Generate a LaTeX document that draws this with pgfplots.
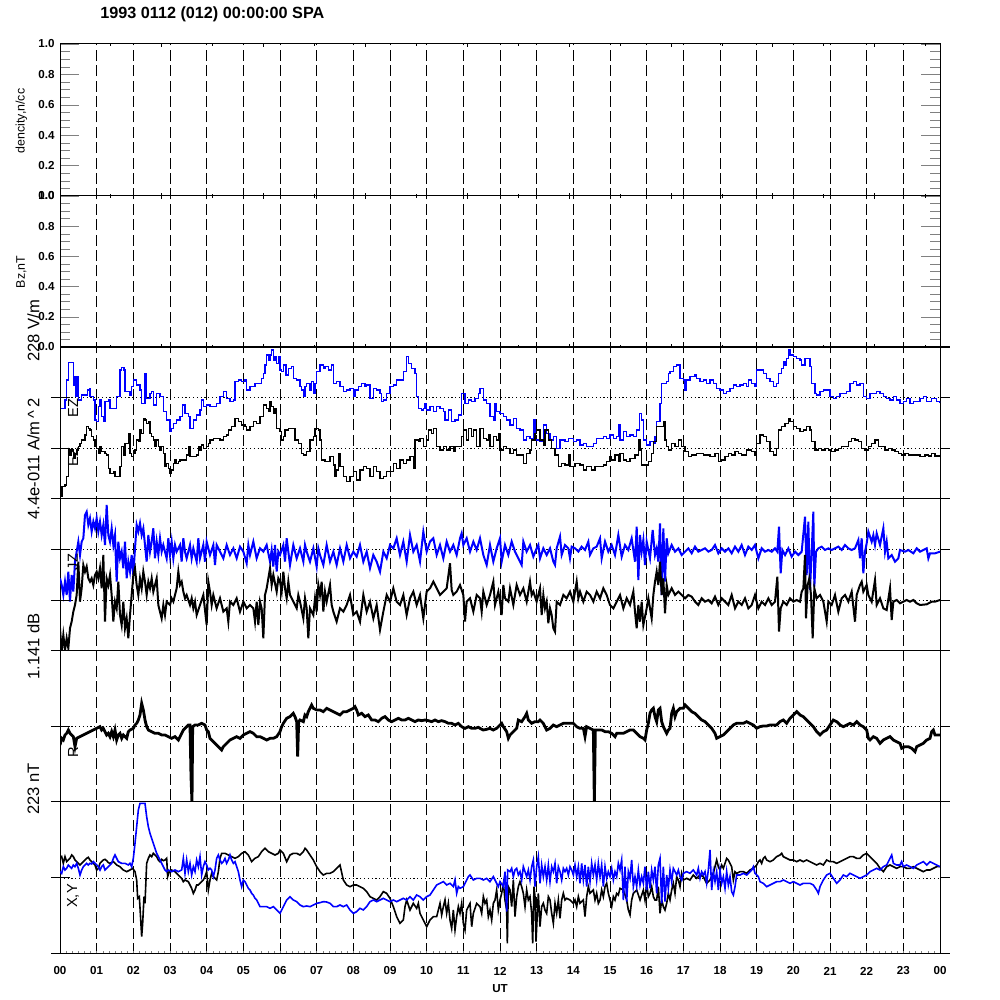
\documentclass[border=0pt]{standalone}
\usepackage{fontspec}
\setmainfont{Liberation Sans}
\usepackage{pgfplots}
\pgfplotsset{compat=1.18}
\pgfplotsset{panel/.style={scale only axis, width=440pt, xmin=0, xmax=2640, anchor=south west,
  axis line style={line width=0.5pt}, xtick=\empty, ytick=\empty, clip=true}}
\begin{document}
\begin{tikzpicture}[x=1pt,y=1pt]
\path[use as bounding box] (0,0) rectangle (500,500);
% hour grid (dashed)
\begin{scope}[line width=0.5pt, dash pattern=on 5.5pt off 2.2pt]
\foreach \h in {1,...,23}{\draw ({30+\h*440/24},23) -- ({30+\h*440/24},478);}
\end{scope}
% dotted reference levels
\begin{scope}[line width=0.45pt, dash pattern=on 0.6pt off 1.3pt]
\foreach \yy in {275.83,301.17,199.83,225.17,136.75,61}{\draw (30,\yy) -- (470,\yy);}
\end{scope}

% ---------- panel 1: density ----------
\begin{axis}[panel, at={(30pt,402pt)}, height=76pt, ymin=0, ymax=1,
  ytick={0,0.2,0.4,0.6,0.8,1.0}, minor y tick num=3, tick align=inside,
  major tick length=9.5pt, minor tick length=5pt, yticklabel pos=left,
  /pgf/number format/assume math mode=true,
  yticklabel style={font=\bfseries\fontsize{5.8}{7}\selectfont, anchor=east, inner sep=0pt, xshift=-2.5pt,
    /pgf/number format/fixed, /pgf/number format/fixed zerofill, /pgf/number format/precision=1}]
\addplot[draw=none] coordinates {(0,0)};
\end{axis}
% ---------- panel 2: Bz ----------
\begin{axis}[panel, at={(30pt,326.5pt)}, height=75.5pt, ymin=0, ymax=1,
  ytick={0,0.2,0.4,0.6,0.8,1.0}, minor y tick num=3, tick align=inside,
  major tick length=9.5pt, minor tick length=5pt, yticklabel pos=left,
  /pgf/number format/assume math mode=true,
  yticklabel style={font=\bfseries\fontsize{5.8}{7}\selectfont, anchor=east, inner sep=0pt, xshift=-2.5pt,
    /pgf/number format/fixed, /pgf/number format/fixed zerofill, /pgf/number format/precision=1}]
\addplot[draw=none] coordinates {(0,0)};
\end{axis}

% ---------- panel 3: EZ / JZ ----------
\begin{axis}[panel, at={(30pt,250.5pt)}, height=76pt, ymin=0, ymax=456]
\addplot[const plot, blue, line width=0.7pt] coordinates {
(3,272)(10,272)(15,297)(20,357)(25,409)(38,409)(40,342)(45,367)(48,307)(52,367)(56,297)(65,312)(75,312)(82,327)(88,332)(90,307)(100,297)(105,237)(110,232)(115,277)(120,297)(125,247)(130,232)(135,292)(145,297)(150,272)(165,272)(170,307)(180,387)(185,395)(192,387)(195,322)(210,312)(215,337)(220,357)(230,342)(240,327)(245,287)(255,377)(260,302)(265,302)(270,317)(275,322)(280,282)(290,317)(300,307)(310,262)(320,237)(330,202)(335,212)(340,227)(350,237)(360,247)(368,282)(375,257)(385,247)(390,212)(400,237)(410,252)(420,267)(425,297)(430,277)(440,282)(450,277)(460,277)(470,287)(480,307)(490,322)(500,302)(510,292)(520,297)(525,352)(535,357)(545,352)(555,357)(560,327)(570,337)(585,347)(595,347)(605,362)(610,377)(615,402)(620,432)(625,417)(630,432)(635,447)(640,417)(645,427)(650,407)(655,427)(660,387)(665,382)(670,402)(678,372)(685,392)(695,397)(700,362)(710,357)(720,337)(725,327)(730,307)(735,337)(740,347)(750,327)(755,352)(760,317)(765,347)(770,382)(780,402)(790,392)(795,397)(805,387)(815,402)(820,347)(830,352)(840,337)(850,322)(860,327)(870,332)(880,307)(885,327)(895,337)(905,347)(915,337)(920,342)(930,302)(940,332)(950,327)(960,317)(965,292)(970,297)(980,317)(990,337)(1000,342)(1010,357)(1020,357)(1030,382)(1040,427)(1045,407)(1055,392)(1065,377)(1070,307)(1075,272)(1085,267)(1090,272)(1095,287)(1100,267)(1110,277)(1120,262)(1130,277)(1140,272)(1150,262)(1155,237)(1165,267)(1175,232)(1185,237)(1195,252)(1205,317)(1215,287)(1225,297)(1235,292)(1245,302)(1255,317)(1260,332)(1270,297)(1280,287)(1290,247)(1300,237)(1305,287)(1310,262)(1320,257)(1330,247)(1340,237)(1350,222)(1360,242)(1370,212)(1380,207)(1390,177)(1400,187)(1410,182)(1420,237)(1425,177)(1440,172)(1450,222)(1460,197)(1470,177)(1480,187)(1490,152)(1500,177)(1515,172)(1525,182)(1540,172)(1550,177)(1560,162)(1570,167)(1580,157)(1590,157)(1600,167)(1610,182)(1620,182)(1630,187)(1640,182)(1650,192)(1660,182)(1670,187)(1675,222)(1680,177)(1690,202)(1700,187)(1710,192)(1720,187)(1730,207)(1738,257)(1745,237)(1750,177)(1760,162)(1770,172)(1780,167)(1785,187)(1790,232)(1800,287)(1805,347)(1820,352)(1825,377)(1830,382)(1840,397)(1850,402)(1855,402)(1860,362)(1870,357)(1875,327)(1880,357)(1890,367)(1900,367)(1905,372)(1910,362)(1920,352)(1930,357)(1940,347)(1950,357)(1960,347)(1970,332)(1980,327)(1990,317)(2000,322)(2010,332)(2020,342)(2030,337)(2040,342)(2050,347)(2060,337)(2065,357)(2075,347)(2085,337)(2090,387)(2100,387)(2110,377)(2120,362)(2130,352)(2140,337)(2150,347)(2155,377)(2165,392)(2170,412)(2175,402)(2180,422)(2185,447)(2190,432)(2200,427)(2210,422)(2220,417)(2225,402)(2235,422)(2245,422)(2250,397)(2255,347)(2265,317)(2270,312)(2280,322)(2290,327)(2300,327)(2310,307)(2320,302)(2330,307)(2340,317)(2350,317)(2360,322)(2370,347)(2380,352)(2390,342)(2400,347)(2410,307)(2420,302)(2430,317)(2440,317)(2450,322)(2460,317)(2470,307)(2480,302)(2490,297)(2500,307)(2510,297)(2520,287)(2530,292)(2540,302)(2550,287)(2560,292)(2570,292)(2580,302)(2590,307)(2600,292)(2610,292)(2615,302)(2625,302)(2630,292)(2640,287)};
\addplot[const plot, black, line width=0.7pt] coordinates {
(3,7)(6,37)(15,42)(20,67)(25,82)(26,147)(30,132)(35,147)(40,122)(45,137)(50,147)(55,157)(60,167)(65,177)(75,192)(80,217)(85,212)(90,207)(95,187)(100,177)(105,157)(110,152)(115,137)(120,157)(125,142)(135,137)(140,132)(145,92)(150,77)(160,82)(165,67)(175,67)(180,97)(185,157)(190,132)(195,167)(205,197)(210,137)(215,127)(220,137)(225,147)(230,177)(235,172)(240,207)(245,197)(250,242)(255,237)(260,227)(265,232)(270,197)(275,187)(280,177)(285,157)(290,177)(295,157)(300,147)(305,157)(310,137)(315,97)(320,107)(325,92)(330,77)(335,87)(340,107)(345,117)(350,107)(355,112)(360,117)(370,117)(380,132)(385,157)(390,127)(405,127)(410,132)(415,157)(420,147)(425,162)(430,152)(440,157)(445,167)(450,177)(460,182)(470,182)(480,177)(490,187)(500,192)(505,207)(515,217)(525,242)(535,232)(545,222)(555,217)(560,207)(570,217)(580,232)(590,227)(600,247)(610,282)(620,272)(625,262)(630,292)(635,277)(640,257)(645,272)(650,212)(660,202)(665,177)(670,187)(675,207)(685,212)(700,212)(705,177)(715,167)(725,137)(730,132)(740,142)(750,177)(760,187)(765,212)(775,207)(780,177)(785,117)(795,112)(805,112)(810,127)(820,102)(825,67)(830,87)(835,137)(840,97)(850,67)(860,52)(870,67)(880,82)(890,57)(900,87)(910,97)(920,92)(930,67)(940,97)(950,82)(960,62)(970,67)(980,82)(990,82)(1000,107)(1010,92)(1020,117)(1030,107)(1040,117)(1050,127)(1060,92)(1065,177)(1075,172)(1080,182)(1090,157)(1100,177)(1105,207)(1115,197)(1120,212)(1130,157)(1140,147)(1150,157)(1160,147)(1170,157)(1180,142)(1185,157)(1195,157)(1205,187)(1210,207)(1220,177)(1225,212)(1235,187)(1240,207)(1250,157)(1260,212)(1270,182)(1280,177)(1285,192)(1290,157)(1300,187)(1310,177)(1315,197)(1320,147)(1330,157)(1340,152)(1350,137)(1360,147)(1370,132)(1380,132)(1390,107)(1400,137)(1410,147)(1415,177)(1425,197)(1430,207)(1440,177)(1450,162)(1455,207)(1465,177)(1475,152)(1485,132)(1495,97)(1505,107)(1515,102)(1525,132)(1530,97)(1545,107)(1560,102)(1570,87)(1580,97)(1595,87)(1605,97)(1615,97)(1630,102)(1640,112)(1650,127)(1655,117)(1665,132)(1675,112)(1680,137)(1690,117)(1700,112)(1710,122)(1725,132)(1735,177)(1740,147)(1745,102)(1760,102)(1765,112)(1775,137)(1780,172)(1790,217)(1805,217)(1810,232)(1815,177)(1820,157)(1825,147)(1835,167)(1845,157)(1855,177)(1865,157)(1875,142)(1885,127)(1895,132)(1910,137)(1930,132)(1950,127)(1965,137)(1975,112)(1985,117)(1995,127)(2005,137)(2015,132)(2025,142)(2035,137)(2045,132)(2060,147)(2075,142)(2085,132)(2090,167)(2100,192)(2110,187)(2120,172)(2130,142)(2140,132)(2150,152)(2155,207)(2165,217)(2175,227)(2185,242)(2190,232)(2200,217)(2210,212)(2220,202)(2230,207)(2240,217)(2250,207)(2255,172)(2265,147)(2275,152)(2285,147)(2295,152)(2305,147)(2315,142)(2325,147)(2335,152)(2345,157)(2355,157)(2365,172)(2375,182)(2385,177)(2395,172)(2405,152)(2415,147)(2425,157)(2435,167)(2445,177)(2455,157)(2465,157)(2475,147)(2485,152)(2495,147)(2505,142)(2515,137)(2525,132)(2535,137)(2545,132)(2555,132)(2565,132)(2580,127)(2595,132)(2605,129)(2615,137)(2625,129)(2640,127)};
\end{axis}

% ---------- panel 4: dB ----------
\begin{axis}[panel, at={(30pt,174.5pt)}, height=76pt, ymin=0, ymax=456]
\addplot[blue, line width=1.0pt] coordinates {
(0,218)(5,198)(10,168)(15,208)(20,168)(25,238)(30,148)(35,228)(40,178)(45,268)(50,298)(55,328)(60,288)(65,328)(70,338)(75,408)(80,418)(85,378)(90,398)(95,358)(100,388)(105,368)(110,398)(115,358)(120,388)(125,348)(130,378)(135,318)(140,438)(145,348)(150,328)(155,368)(160,318)(165,348)(170,208)(175,328)(180,278)(185,298)(190,248)(195,328)(200,218)(205,268)(210,238)(215,288)(220,228)(225,308)(230,378)(235,358)(240,383)(245,348)(250,368)(255,318)(260,268)(265,348)(270,298)(275,328)(280,368)(285,278)(290,328)(295,288)(300,338)(305,298)(310,318)(320,278)(325,338)(330,288)(335,328)(340,278)(345,318)(350,298)(360,318)(365,268)(370,338)(375,298)(380,278)(390,318)(395,278)(400,308)(410,268)(415,338)(420,278)(430,318)(435,268)(440,328)(450,288)(460,318)(465,258)(470,318)(480,298)(490,278)(500,318)(510,288)(520,308)(530,278)(540,313)(550,298)(560,263)(565,318)(570,288)(580,328)(590,278)(600,308)(610,298)(620,318)(630,268)(635,303)(640,253)(645,318)(650,238)(655,298)(660,288)(670,318)(675,268)(680,338)(690,258)(700,318)(710,278)(720,308)(730,268)(735,318)(740,298)(750,268)(760,308)(770,253)(775,308)(780,288)(790,258)(800,318)(810,268)(820,298)(830,258)(840,308)(850,268)(860,318)(870,278)(880,298)(890,283)(900,318)(910,268)(920,298)(930,248)(940,288)(950,268)(960,238)(970,298)(980,278)(990,318)(1000,308)(1010,338)(1020,288)(1030,328)(1040,268)(1050,348)(1060,298)(1070,318)(1080,268)(1090,358)(1100,298)(1110,328)(1120,338)(1130,288)(1140,318)(1150,278)(1160,328)(1170,298)(1180,318)(1190,288)(1200,338)(1205,353)(1210,318)(1220,338)(1230,298)(1240,328)(1250,303)(1260,338)(1270,288)(1280,258)(1290,318)(1300,268)(1310,308)(1320,338)(1325,268)(1335,318)(1345,288)(1355,328)(1365,298)(1375,278)(1385,258)(1390,328)(1400,298)(1410,318)(1420,283)(1430,308)(1435,318)(1440,278)(1450,308)(1460,288)(1470,308)(1480,268)(1485,258)(1490,308)(1500,343)(1505,288)(1515,318)(1525,308)(1530,278)(1535,313)(1545,308)(1555,298)(1565,313)(1575,303)(1585,328)(1590,288)(1600,308)(1610,313)(1620,338)(1625,278)(1635,328)(1645,298)(1655,318)(1665,288)(1675,348)(1685,283)(1695,318)(1705,303)(1715,338)(1725,268)(1730,373)(1735,213)(1740,348)(1745,298)(1750,333)(1755,258)(1760,328)(1770,278)(1778,363)(1785,288)(1790,308)(1795,268)(1800,383)(1805,168)(1810,368)(1815,208)(1820,338)(1825,293)(1835,318)(1845,298)(1855,308)(1865,288)(1875,298)(1885,308)(1895,293)(1905,313)(1915,298)(1925,303)(1935,308)(1945,298)(1955,303)(1965,318)(1975,293)(1985,308)(1995,298)(2005,308)(2015,293)(2025,313)(2035,298)(2045,318)(2055,288)(2065,313)(2075,303)(2085,318)(2095,278)(2105,308)(2115,298)(2125,303)(2135,298)(2145,308)(2152,298)(2157,373)(2162,233)(2167,303)(2175,288)(2185,308)(2195,283)(2205,298)(2215,288)(2225,298)(2235,403)(2240,228)(2245,388)(2250,183)(2255,298)(2260,418)(2263,193)(2268,298)(2275,308)(2285,313)(2295,303)(2305,308)(2315,303)(2325,308)(2335,313)(2345,303)(2355,318)(2365,308)(2375,303)(2385,308)(2395,333)(2400,278)(2405,338)(2410,233)(2415,298)(2420,323)(2425,358)(2435,328)(2440,348)(2445,318)(2450,353)(2460,318)(2470,368)(2475,298)(2480,328)(2485,278)(2495,288)(2505,268)(2515,278)(2520,303)(2535,298)(2545,303)(2560,293)(2570,308)(2580,298)(2590,303)(2600,308)(2605,278)(2610,293)(2625,293)(2640,298)};
\addplot[black, line width=1.0pt] coordinates {
(0,68)(5,-2)(10,48)(15,3)(20,38)(25,8)(30,68)(35,88)(40,118)(45,138)(50,168)(55,268)(60,148)(65,188)(70,258)(75,238)(80,253)(85,218)(90,208)(95,218)(100,198)(105,228)(110,238)(115,218)(120,248)(125,188)(130,288)(135,88)(140,218)(145,198)(150,228)(155,168)(160,88)(165,148)(170,128)(175,208)(180,108)(185,78)(190,148)(195,68)(200,98)(205,38)(210,108)(215,168)(220,228)(225,248)(230,198)(235,168)(240,218)(245,188)(250,238)(255,208)(260,168)(265,208)(270,188)(275,218)(280,178)(285,198)(290,218)(295,138)(300,118)(305,98)(310,138)(315,108)(320,148)(330,138)(335,158)(340,148)(350,188)(355,238)(360,198)(365,208)(370,178)(375,158)(380,168)(390,138)(395,158)(400,128)(405,148)(410,108)(420,138)(430,168)(440,78)(445,208)(450,178)(455,138)(460,168)(465,148)(470,128)(480,158)(490,118)(500,128)(505,88)(510,148)(520,138)(530,158)(540,118)(550,148)(560,128)(570,138)(580,128)(585,88)(590,148)(595,78)(600,148)(605,128)(610,38)(615,168)(620,188)(625,218)(630,248)(635,198)(640,228)(650,178)(655,218)(660,208)(665,178)(670,238)(675,188)(680,158)(685,208)(690,168)(700,148)(710,128)(715,168)(720,148)(730,98)(735,158)(740,128)(745,38)(750,128)(760,108)(765,158)(770,118)(775,198)(780,168)(785,208)(790,118)(795,178)(800,148)(810,198)(815,138)(820,118)(830,88)(840,128)(850,118)(860,138)(870,168)(880,108)(890,118)(900,88)(910,168)(920,118)(930,148)(940,98)(950,138)(960,63)(970,118)(980,168)(990,148)(1000,188)(1010,148)(1020,138)(1030,168)(1040,108)(1050,158)(1060,178)(1070,138)(1080,168)(1090,98)(1100,178)(1110,188)(1120,208)(1130,188)(1140,168)(1150,178)(1160,188)(1170,263)(1175,183)(1180,168)(1190,178)(1200,198)(1210,168)(1215,88)(1220,148)(1230,158)(1240,118)(1250,168)(1260,158)(1265,118)(1270,178)(1280,138)(1290,168)(1300,208)(1305,138)(1315,178)(1320,148)(1325,108)(1330,198)(1335,158)(1345,148)(1350,188)(1360,138)(1370,198)(1380,168)(1390,188)(1400,148)(1410,208)(1415,168)(1420,178)(1430,148)(1440,188)(1445,108)(1450,168)(1455,128)(1460,148)(1465,83)(1470,128)(1475,108)(1480,68)(1485,58)(1490,148)(1500,138)(1510,168)(1520,158)(1530,178)(1540,148)(1550,208)(1555,158)(1560,178)(1570,148)(1580,178)(1590,168)(1600,148)(1610,178)(1620,158)(1630,188)(1640,168)(1650,138)(1660,128)(1670,148)(1680,168)(1690,128)(1700,158)(1710,138)(1720,178)(1725,118)(1730,68)(1735,138)(1740,88)(1745,148)(1750,78)(1760,128)(1765,158)(1775,98)(1780,168)(1785,208)(1790,238)(1795,198)(1800,268)(1805,168)(1810,218)(1815,113)(1820,198)(1825,168)(1835,188)(1845,168)(1855,178)(1865,168)(1875,158)(1885,168)(1895,163)(1905,148)(1915,138)(1925,158)(1935,148)(1945,153)(1955,143)(1965,163)(1975,138)(1985,158)(1995,148)(2005,138)(2015,168)(2025,128)(2035,148)(2045,138)(2055,158)(2065,128)(2075,138)(2085,168)(2095,128)(2105,148)(2115,138)(2125,158)(2135,138)(2145,148)(2152,223)(2157,58)(2162,128)(2170,148)(2180,138)(2190,158)(2200,148)(2210,153)(2220,148)(2225,178)(2230,188)(2235,288)(2238,98)(2243,198)(2248,218)(2253,168)(2258,38)(2263,188)(2270,158)(2280,168)(2290,148)(2300,88)(2305,148)(2315,138)(2325,168)(2335,118)(2345,158)(2355,168)(2365,148)(2375,178)(2385,88)(2390,168)(2400,198)(2405,208)(2410,178)(2420,198)(2425,168)(2435,148)(2445,213)(2450,138)(2460,158)(2470,128)(2480,123)(2490,188)(2495,93)(2500,148)(2510,153)(2520,143)(2530,148)(2540,153)(2550,148)(2560,153)(2570,143)(2580,138)(2600,140)(2615,148)(2625,148)(2640,153)};
\end{axis}

% ---------- panel 5: R ----------
\begin{axis}[panel, at={(30pt,99pt)}, height=75.5pt, ymin=0, ymax=453]
\addplot[black, line width=1.4pt] coordinates {
(0,171)(5,191)(10,186)(15,201)(20,206)(25,216)(30,206)(35,201)(40,196)(45,166)(50,191)(60,196)(70,201)(80,206)(90,211)(100,216)(110,221)(120,226)(125,216)(130,221)(135,211)(140,201)(145,206)(150,196)(155,211)(160,196)(165,216)(170,186)(175,201)(180,206)(185,191)(190,201)(200,191)(205,211)(210,216)(220,221)(225,231)(230,236)(235,246)(240,261)(245,296)(250,276)(255,246)(260,226)(265,216)(275,211)(285,206)(295,206)(305,201)(315,201)(325,196)(335,191)(345,196)(355,186)(360,196)(365,206)(370,216)(375,221)(385,231)(390,231)(393,76)(396,-4)(398,226)(405,231)(415,231)(425,236)(435,231)(440,216)(445,211)(450,191)(460,181)(470,171)(480,161)(485,156)(490,166)(495,171)(500,176)(510,186)(520,191)(530,196)(540,191)(550,201)(560,206)(570,211)(580,206)(590,196)(600,196)(610,191)(620,186)(630,191)(640,191)(650,196)(660,211)(665,226)(670,236)(680,251)(690,256)(700,266)(705,256)(710,241)(713,136)(716,241)(720,246)(730,241)(735,261)(740,256)(745,271)(750,281)(755,291)(760,281)(770,276)(780,276)(790,271)(800,281)(810,276)(820,271)(830,266)(840,261)(850,271)(860,271)(870,276)(880,281)(885,286)(890,276)(895,261)(905,266)(915,256)(925,261)(935,246)(945,246)(955,241)(965,251)(975,256)(985,246)(995,241)(1005,246)(1015,251)(1025,246)(1035,246)(1045,251)(1055,246)(1065,241)(1075,246)(1085,244)(1095,246)(1105,244)(1115,241)(1125,246)(1135,241)(1145,244)(1155,241)(1165,236)(1175,236)(1185,231)(1195,236)(1205,226)(1215,221)(1225,226)(1235,221)(1245,221)(1255,224)(1260,221)(1270,216)(1280,218)(1290,221)(1300,216)(1310,221)(1320,231)(1325,236)(1330,226)(1340,211)(1345,191)(1350,201)(1360,211)(1370,221)(1375,246)(1385,241)(1395,256)(1400,266)(1405,246)(1415,236)(1425,241)(1435,241)(1440,246)(1450,236)(1460,216)(1470,221)(1480,231)(1490,226)(1500,231)(1510,236)(1520,236)(1530,236)(1540,236)(1550,226)(1560,221)(1570,221)(1575,196)(1580,226)(1590,221)(1600,216)(1603,-4)(1606,216)(1615,216)(1625,216)(1635,211)(1645,211)(1655,206)(1665,196)(1670,206)(1680,206)(1690,206)(1700,211)(1710,216)(1720,216)(1730,206)(1740,196)(1750,191)(1755,186)(1760,216)(1765,236)(1770,266)(1775,276)(1780,281)(1785,256)(1790,241)(1795,276)(1800,281)(1805,241)(1810,226)(1815,216)(1820,206)(1825,216)(1830,221)(1835,266)(1840,281)(1845,256)(1850,271)(1860,281)(1870,281)(1875,291)(1885,281)(1895,271)(1905,266)(1915,256)(1925,246)(1935,241)(1945,231)(1955,221)(1965,206)(1970,191)(1980,196)(1990,201)(2000,211)(2010,221)(2020,231)(2030,236)(2040,236)(2050,236)(2060,241)(2070,236)(2080,231)(2090,221)(2100,226)(2110,228)(2120,228)(2130,231)(2140,231)(2150,231)(2160,241)(2170,246)(2180,236)(2190,251)(2200,261)(2210,271)(2220,261)(2230,256)(2240,246)(2250,236)(2260,226)(2270,211)(2280,201)(2290,211)(2300,216)(2310,231)(2320,246)(2330,241)(2340,231)(2350,226)(2360,231)(2370,236)(2380,231)(2390,241)(2400,231)(2410,226)(2420,216)(2425,191)(2430,186)(2440,196)(2450,191)(2460,176)(2470,186)(2480,191)(2490,196)(2500,186)(2510,181)(2520,176)(2525,161)(2535,166)(2545,166)(2555,161)(2565,151)(2570,166)(2580,171)(2590,176)(2600,186)(2610,191)(2615,211)(2620,216)(2625,201)(2630,201)(2640,201)};
\end{axis}

% ---------- panel 6: X,Y ----------
\begin{axis}[panel, at={(30pt,23pt)}, height=76pt, ymin=0, ymax=456,
  xtick={0,110,...,2640}, xtick pos=left, xtick align=inside,
  minor x tick num=5, major tick length=1.6pt, minor tick length=1.6pt,
  xticklabels={00,01,02,03,04,05,06,07,08,09,10,11,12,13,14,15,16,17,18,19,20,21,22,23,00},
  xticklabel style={font=\bfseries\fontsize{5.8}{7}\selectfont, anchor=center, yshift=-8.5pt}]
\addplot[black, line width=0.8pt] coordinates {
(0,287)(5,292)(10,272)(15,292)(20,277)(25,282)(30,287)(35,297)(40,292)(45,282)(50,277)(55,272)(60,267)(65,272)(70,277)(75,282)(80,287)(85,290)(90,282)(95,277)(100,272)(105,267)(110,252)(115,257)(120,272)(125,277)(130,282)(135,284)(140,280)(145,274)(150,272)(160,277)(170,267)(180,262)(190,252)(200,247)(210,252)(218,257)(225,247)(230,222)(233,167)(238,172)(241,122)(245,52)(248,92)(252,172)(255,152)(260,272)(265,287)(270,297)(275,292)(280,302)(285,297)(290,292)(295,282)(300,277)(305,284)(310,280)(315,282)(320,287)(323,232)(328,247)(335,252)(345,247)(355,237)(365,227)(370,217)(375,222)(385,217)(395,197)(400,182)(405,192)(410,207)(415,207)(420,212)(425,217)(430,222)(435,232)(440,247)(445,192)(450,222)(455,242)(460,232)(465,227)(470,222)(475,247)(480,287)(485,302)(495,302)(505,297)(515,292)(525,287)(535,292)(545,302)(555,307)(565,297)(575,277)(585,287)(595,292)(605,307)(615,317)(625,307)(635,302)(645,297)(655,302)(660,312)(670,302)(680,277)(690,297)(700,302)(710,302)(720,297)(730,307)(735,317)(740,312)(750,297)(760,282)(770,262)(780,247)(790,237)(800,242)(810,242)(820,247)(830,257)(840,267)(850,222)(860,207)(870,202)(880,207)(890,207)(900,202)(910,197)(920,187)(930,172)(940,167)(950,162)(960,172)(970,187)(980,182)(990,167)(1000,142)(1010,112)(1020,92)(1030,102)(1035,142)(1040,162)(1050,132)(1060,152)(1070,137)(1075,152)(1080,122)(1090,102)(1100,82)(1110,102)(1120,112)(1130,112)(1140,152)(1145,117)(1150,142)(1155,162)(1160,122)(1165,152)(1170,102)(1175,77)(1180,132)(1185,72)(1190,112)(1195,142)(1200,122)(1205,152)(1210,92)(1215,72)(1220,132)(1230,152)(1235,82)(1240,122)(1250,152)(1260,142)(1265,122)(1270,172)(1275,152)(1280,162)(1285,112)(1290,132)(1295,102)(1300,152)(1305,162)(1310,192)(1315,132)(1320,162)(1325,182)(1330,212)(1335,162)(1340,132)(1342,32)(1345,202)(1350,192)(1355,142)(1360,222)(1365,112)(1370,172)(1375,202)(1380,217)(1385,202)(1390,182)(1395,142)(1400,192)(1405,162)(1410,172)(1415,122)(1418,32)(1422,202)(1425,172)(1428,37)(1432,122)(1435,182)(1440,82)(1445,142)(1450,152)(1455,132)(1460,122)(1465,172)(1470,162)(1475,122)(1480,92)(1485,152)(1490,122)(1495,162)(1500,107)(1505,162)(1510,182)(1515,162)(1520,167)(1530,162)(1540,152)(1545,162)(1550,142)(1555,172)(1560,152)(1570,162)(1575,112)(1580,172)(1585,202)(1590,182)(1600,192)(1605,162)(1610,182)(1615,152)(1620,162)(1625,192)(1630,172)(1635,202)(1640,212)(1645,182)(1650,162)(1655,142)(1660,172)(1665,162)(1670,182)(1675,177)(1680,197)(1690,192)(1700,162)(1705,132)(1710,117)(1715,162)(1720,182)(1730,192)(1740,162)(1750,192)(1755,162)(1760,212)(1765,172)(1770,182)(1775,202)(1780,172)(1785,162)(1790,162)(1795,202)(1800,122)(1805,162)(1810,142)(1815,132)(1820,152)(1825,182)(1830,162)(1835,192)(1840,212)(1845,182)(1850,232)(1855,222)(1860,202)(1865,242)(1870,222)(1880,227)(1890,222)(1900,237)(1910,227)(1920,237)(1930,232)(1940,212)(1950,222)(1960,242)(1965,262)(1970,282)(1975,262)(1980,252)(1985,267)(1990,257)(2000,287)(2005,282)(2010,272)(2015,262)(2020,222)(2025,247)(2030,242)(2040,247)(2050,247)(2060,242)(2070,252)(2080,257)(2090,267)(2095,277)(2100,282)(2105,272)(2110,287)(2115,292)(2120,282)(2130,277)(2140,282)(2150,292)(2160,297)(2165,302)(2170,292)(2180,287)(2190,282)(2200,282)(2210,277)(2220,282)(2230,277)(2240,282)(2250,277)(2260,272)(2270,267)(2280,272)(2290,267)(2300,282)(2310,277)(2320,277)(2330,272)(2340,277)(2350,282)(2360,287)(2370,292)(2380,292)(2390,287)(2400,287)(2410,297)(2420,302)(2430,292)(2440,282)(2450,272)(2460,257)(2470,247)(2480,262)(2490,267)(2500,262)(2510,257)(2520,262)(2530,262)(2540,257)(2550,257)(2560,262)(2570,257)(2580,252)(2590,247)(2600,252)(2610,252)(2620,257)(2630,262)(2640,262)};
\addplot[blue, line width=0.8pt] coordinates {
(0,247)(5,242)(10,262)(15,252)(20,257)(25,267)(30,262)(35,257)(40,267)(45,262)(50,272)(55,257)(60,237)(65,252)(70,262)(75,267)(80,272)(85,267)(90,272)(95,270)(100,277)(105,272)(110,267)(115,262)(120,252)(125,262)(130,267)(135,252)(140,257)(145,262)(150,267)(155,272)(160,287)(165,297)(170,287)(175,277)(185,272)(195,272)(205,267)(210,272)(215,262)(220,287)(225,332)(230,382)(235,432)(240,452)(255,452)(260,412)(265,382)(270,362)(275,347)(280,332)(285,317)(290,302)(295,292)(300,282)(305,272)(310,262)(315,252)(320,247)(325,252)(335,247)(345,252)(355,247)(365,252)(370,287)(375,242)(380,282)(385,247)(390,272)(395,237)(400,262)(405,247)(410,282)(415,262)(420,292)(425,237)(430,262)(435,277)(440,267)(445,252)(450,257)(455,252)(460,232)(465,252)(470,287)(475,297)(480,282)(485,272)(490,277)(495,287)(500,272)(505,282)(510,297)(515,282)(520,272)(525,277)(530,262)(535,247)(540,222)(545,202)(550,222)(555,217)(560,207)(565,197)(570,192)(575,182)(580,177)(585,167)(590,162)(600,142)(610,142)(620,142)(630,137)(640,142)(650,132)(660,122)(670,142)(680,162)(690,172)(700,162)(710,157)(720,147)(730,142)(740,144)(750,142)(760,147)(770,152)(780,154)(790,157)(800,156)(810,152)(820,142)(830,142)(840,147)(850,142)(860,147)(870,132)(880,122)(890,127)(900,137)(910,132)(920,142)(930,157)(940,162)(950,157)(960,162)(970,167)(980,162)(990,157)(1000,162)(1010,157)(1020,162)(1030,167)(1040,162)(1050,172)(1060,162)(1070,177)(1080,172)(1090,162)(1100,172)(1110,177)(1120,192)(1130,207)(1140,212)(1150,217)(1160,207)(1170,212)(1180,202)(1185,222)(1190,182)(1195,202)(1200,197)(1210,202)(1220,222)(1225,232)(1230,237)(1240,222)(1250,227)(1260,227)(1270,222)(1280,227)(1290,217)(1300,232)(1310,212)(1315,202)(1320,217)(1330,202)(1335,247)(1340,127)(1343,252)(1350,247)(1355,257)(1360,232)(1365,252)(1370,257)(1375,237)(1380,247)(1385,222)(1390,262)(1400,232)(1405,252)(1410,222)(1415,262)(1420,282)(1425,202)(1430,262)(1435,292)(1440,212)(1445,267)(1450,232)(1455,262)(1460,222)(1465,267)(1470,217)(1475,262)(1480,247)(1485,272)(1490,212)(1495,262)(1500,247)(1505,222)(1510,257)(1515,247)(1520,257)(1525,237)(1530,262)(1535,252)(1540,237)(1545,267)(1550,232)(1555,262)(1560,212)(1565,272)(1570,222)(1575,267)(1580,202)(1585,262)(1590,217)(1595,272)(1600,237)(1605,267)(1610,222)(1615,272)(1620,232)(1625,267)(1630,202)(1635,262)(1640,227)(1645,247)(1650,232)(1655,257)(1660,222)(1665,247)(1670,232)(1675,272)(1680,252)(1685,282)(1690,162)(1695,262)(1700,157)(1705,247)(1710,227)(1715,282)(1720,202)(1725,232)(1730,202)(1735,252)(1740,207)(1745,232)(1750,212)(1755,262)(1760,192)(1765,247)(1770,197)(1775,252)(1780,222)(1785,262)(1790,182)(1795,267)(1800,287)(1805,152)(1810,262)(1815,157)(1820,237)(1825,197)(1830,252)(1835,217)(1840,257)(1850,237)(1855,252)(1860,232)(1865,222)(1870,242)(1880,247)(1890,242)(1900,252)(1910,237)(1915,257)(1920,227)(1925,247)(1930,237)(1935,247)(1940,212)(1945,252)(1950,312)(1955,192)(1960,247)(1965,217)(1970,247)(1975,192)(1980,252)(1985,212)(1990,232)(1995,197)(2000,247)(2005,207)(2010,232)(2015,187)(2020,177)(2025,202)(2030,237)(2040,237)(2050,242)(2060,237)(2070,247)(2075,252)(2080,262)(2085,242)(2090,237)(2095,232)(2100,217)(2110,212)(2120,202)(2130,207)(2140,212)(2150,217)(2160,217)(2170,222)(2180,217)(2190,212)(2200,217)(2210,212)(2220,207)(2230,212)(2240,212)(2250,212)(2260,207)(2270,192)(2275,182)(2280,202)(2290,222)(2300,237)(2310,242)(2320,227)(2330,212)(2340,222)(2350,237)(2360,232)(2370,242)(2380,237)(2390,232)(2400,227)(2410,232)(2420,237)(2430,247)(2440,252)(2450,257)(2460,252)(2470,262)(2480,267)(2490,287)(2495,297)(2500,272)(2510,267)(2520,267)(2525,277)(2530,262)(2540,267)(2550,262)(2560,257)(2570,267)(2580,272)(2590,277)(2600,267)(2610,277)(2620,272)(2630,267)(2640,262)};
\end{axis}

% ---------- tick marks drawn around the panels ----------
\begin{scope}[line width=0.5pt]
\foreach \yy in {250.5,275.83,301.17,199.83,225.17,174.5,136.75,99,61,23}{\draw (25.5,\yy) -- (35,\yy);}
\foreach \yy in {326.5,250.5,275.83,301.17,199.83,225.17,174.5,136.75,99,61,23}{\draw (470,\yy) -- (475,\yy);}
\foreach \k in {1,...,17}{
  \pgfmathsetmacro{\xx}{30+\k*25.463}
  \pgfmathsetmacro{\ll}{ifthenelse(mod(\k,2)==1,1,1.6)}
  \draw (\xx,478) -- ++(0,-\ll);
  \draw (\xx,402) -- ++(0,\ll);
  \draw (\xx,402) -- ++(0,-\ll);
  \draw (\xx,326.5) -- ++(0,\ll);
}
\draw[line width=1.2pt] (30,326.5) -- (475,326.5);
\end{scope}

% ---------- texts ----------
\node[anchor=west, inner sep=0pt, font=\bfseries\fontsize{8.1}{10}\selectfont] at (50,493) {1993 0112 (012) 00:00:00 SPA};
\node[rotate=90, inner sep=0pt, font=\fontsize{6.2}{7}\selectfont] at (10.75,439.5) {dencity,n/cc};
\node[rotate=90, inner sep=0pt, font=\fontsize{6.2}{7}\selectfont] at (10.75,364) {Bz,nT};
\node[rotate=90, anchor=west, inner sep=0pt, font=\fontsize{8.3}{10}\selectfont] at (16.75,319) {228 V/m};
\node[rotate=90, anchor=west, inner sep=0pt, font=\fontsize{8.3}{10}\selectfont] at (16.75,240) {4.4e-011 A/m\,\textasciicircum\,2};
\node[rotate=90, anchor=west, inner sep=0pt, font=\fontsize{8.3}{10}\selectfont] at (16.75,160) {1.141 dB};
\node[rotate=90, anchor=west, inner sep=0pt, font=\fontsize{8.3}{10}\selectfont] at (16.75,92.5) {223 nT};
\node[rotate=90, inner sep=0pt, font=\fontsize{7.3}{9}\selectfont] at (36.5,296) {EZ};
\node[rotate=90, inner sep=0pt, font=\fontsize{7.3}{9}\selectfont] at (36.5,271.5) {EZ};
\node[rotate=90, inner sep=0pt, font=\fontsize{7.3}{9}\selectfont] at (36.5,219) {JZ};
\node[rotate=90, inner sep=0pt, font=\fontsize{7.3}{9}\selectfont] at (36.5,124) {R};
\node[rotate=90, inner sep=0pt, font=\fontsize{7.3}{9}\selectfont] at (36.5,52) {X,Y};
\node[inner sep=0pt, font=\bfseries\fontsize{5.8}{7}\selectfont] at (250,5.5) {UT};
\end{tikzpicture}
\end{document}
